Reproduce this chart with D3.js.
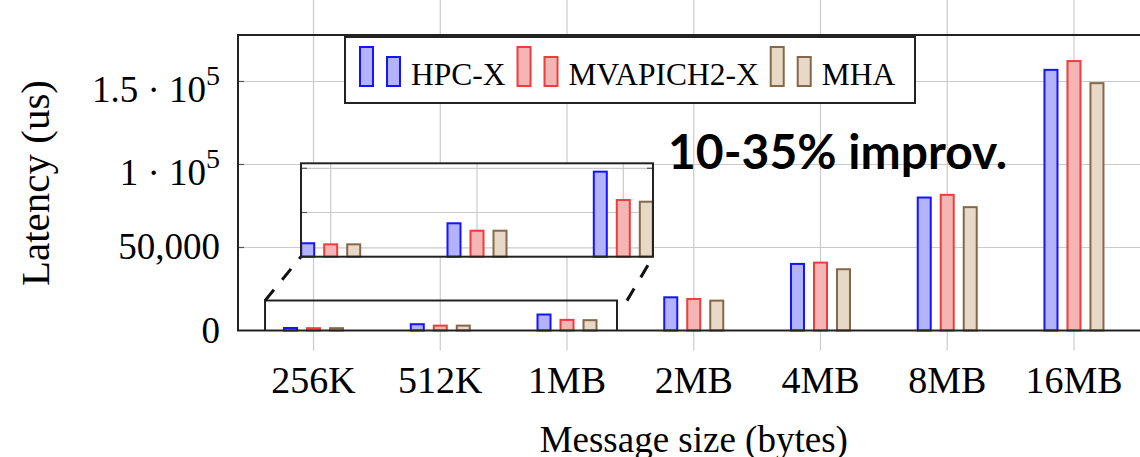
<!DOCTYPE html>
<html>
<head>
<meta charset="utf-8">
<script src="https://cdn.jsdelivr.net/npm/d3@7"></script>
<style>
  body { margin: 0; background: #fff; }
  svg { display: block; }
  .serif { font-family: "Liberation Serif", "DejaVu Serif", serif; fill: #000; }
</style>
</head>
<body>
<svg id="canvas" width="1140" height="457"></svg>
<script>
// Data
var categories = ['256K', '512K', '1MB', '2MB', '4MB', '8MB', '16MB'];
var seriesNames = ['HPC-X', 'MVAPICH2-X', 'MHA'];
var hpcx = [1520, 3780, 9620, 20000, 40100, 80100, 157000];
var mvapich = [1400, 2940, 6410, 19000, 40900, 81700, 162300];
var mha = [1400, 2940, 6220, 18000, 36900, 74300, 149000];
var yTicks = [0, 50000, 100000, 150000];
var yTickLabels = [['0'], ['50,000'], ['1 · 10', '5'], ['1.5 · 10', '5']];
var insetCategories = ['256K', '512K', '1MB'];
var insetTicks = [1000, 5000, 10000];

var series = [hpcx, mvapich, mha];
var fills = ['#b3b3fb', '#f5b5b5', '#e8d8c6'];
var strokes = ['#1414ff', '#f03c3c', '#85684a'];

// Layout
var plot = { left: 238, right: 1149.5, top: 35, bottom: 330.5 };
var inset = { left: 301, right: 653, top: 163.3, bottom: 256.7 };
var barW = 13, barGap = 23;

var svg = d3.select('#canvas');

var x = d3.scalePoint().domain(categories).range([plot.left, plot.right]).padding(0.596);
var y = d3.scaleLinear().domain([0, 178000]).range([plot.bottom, plot.top]);

var xi = d3.scalePoint().domain(insetCategories).range([inset.left, inset.right]).padding(0.203);
var yi = d3.scaleLinear().domain([0, 10566]).range([inset.bottom, inset.top]);

// Grid
var grid = svg.append('g').attr('stroke', '#cacaca').attr('stroke-width', 1.2);
grid.selectAll('line.h').data(yTicks.slice(1)).enter().append('line')
  .attr('x1', plot.left).attr('x2', plot.right)
  .attr('y1', function (d) { return y(d); }).attr('y2', function (d) { return y(d); });
grid.selectAll('line.v').data(categories).enter().append('line')
  .attr('x1', function (d) { return x(d); }).attr('x2', function (d) { return x(d); })
  .attr('y1', 0).attr('y2', plot.bottom + 20);

// Ticks on frame
var ticks = svg.append('g').attr('stroke', '#555').attr('stroke-width', 1.2);
yTicks.slice(1).forEach(function (t) {
  ticks.append('line').attr('x1', plot.left).attr('x2', plot.left + 6).attr('y1', y(t)).attr('y2', y(t));
  ticks.append('line').attr('x1', plot.right - 6).attr('x2', plot.right).attr('y1', y(t)).attr('y2', y(t));
});

// Main bars
function drawBars(g, xs, ys, cats) {
  series.forEach(function (vals, si) {
    g.selectAll('rect.s' + si).data(cats).enter().append('rect')
      .attr('x', function (d) { return xs(d) + (si - 1) * barGap - barW / 2; })
      .attr('y', function (d, i) { return ys(vals[i]); })
      .attr('width', barW)
      .attr('height', function (d, i) { return ys(0) - ys(vals[i]); })
      .attr('fill', fills[si])
      .attr('stroke', strokes[si])
      .attr('stroke-width', 2);
  });
}
drawBars(svg.append('g'), x, y, categories);

// Frame
svg.append('rect')
  .attr('x', plot.left).attr('y', plot.top)
  .attr('width', plot.right - plot.left).attr('height', plot.bottom - plot.top)
  .attr('fill', 'none').attr('stroke', '#222').attr('stroke-width', 2);

// Spy box around the small sizes
var spy = { left: x('256K') - 48.5, right: x('1MB') + 50, top: y(18000), bottom: plot.bottom };
svg.append('path')
  .attr('d', 'M' + spy.left + ',' + spy.bottom + 'V' + spy.top + 'H' + spy.right + 'V' + spy.bottom)
  .attr('fill', 'none').attr('stroke', '#222').attr('stroke-width', 2);

var dash = svg.append('g').attr('stroke', '#111').attr('stroke-width', 3).attr('stroke-dasharray', '14,13');
dash.append('line').attr('x1', spy.left).attr('y1', spy.top).attr('x2', inset.left).attr('y2', inset.bottom);
dash.append('line').attr('x1', spy.right + 10).attr('y1', spy.top).attr('x2', inset.right).attr('y2', inset.bottom);

// Inset (zoomed view)
var ig = svg.append('g');
ig.append('rect')
  .attr('x', inset.left).attr('y', inset.top)
  .attr('width', inset.right - inset.left).attr('height', inset.bottom - inset.top)
  .attr('fill', '#fff');
var igrid = ig.append('g').attr('stroke', '#cacaca').attr('stroke-width', 1.2);
igrid.selectAll('line.h').data(insetTicks).enter().append('line')
  .attr('x1', inset.left).attr('x2', inset.right)
  .attr('y1', function (d) { return yi(d); }).attr('y2', function (d) { return yi(d); });
igrid.selectAll('line.v').data(insetCategories).enter().append('line')
  .attr('x1', function (d) { return xi(d); }).attr('x2', function (d) { return xi(d); })
  .attr('y1', inset.top).attr('y2', inset.bottom);
var iticks = ig.append('g').attr('stroke', '#555').attr('stroke-width', 1.2);
insetTicks.slice(1).forEach(function (t) {
  iticks.append('line').attr('x1', inset.left).attr('x2', inset.left + 6).attr('y1', yi(t)).attr('y2', yi(t));
  iticks.append('line').attr('x1', inset.right - 6).attr('x2', inset.right).attr('y1', yi(t)).attr('y2', yi(t));
});
drawBars(ig.append('g'), xi, yi, insetCategories);
ig.append('rect')
  .attr('x', inset.left).attr('y', inset.top)
  .attr('width', inset.right - inset.left).attr('height', inset.bottom - inset.top)
  .attr('fill', 'none').attr('stroke', '#222').attr('stroke-width', 2);

// Y tick labels
yTicks.forEach(function (t, i) {
  var lab = yTickLabels[i];
  var txt = svg.append('text').attr('class', 'serif')
    .attr('x', 220)
    .attr('y', y(t) + (lab.length > 1 ? 21 : 12))
    .attr('text-anchor', 'end')
    .style('font-size', '37px')
    .text(lab[0]);
  if (lab.length > 1) {
    txt.append('tspan').attr('dy', -17).style('font-size', '28px').text(lab[1]);
  }
});

// X tick labels
svg.append('g').selectAll('text').data(categories).enter().append('text')
  .attr('class', 'serif')
  .attr('x', function (d) { return x(d); })
  .attr('y', 393)
  .attr('text-anchor', 'middle')
  .style('font-size', '38px')
  .text(function (d) { return d; });

// Axis titles
svg.append('text').attr('class', 'serif')
  .attr('x', (plot.left + plot.right) / 2).attr('y', 452)
  .attr('text-anchor', 'middle').style('font-size', '37px')
  .text('Message size (bytes)');
svg.append('text').attr('class', 'serif')
  .attr('transform', 'translate(49,183) rotate(-90)')
  .attr('text-anchor', 'middle').style('font-size', '41px')
  .text('Latency (us)');

// Legend
var legend = svg.append('g');
legend.append('rect')
  .attr('x', 345).attr('y', 37).attr('width', 570).attr('height', 66)
  .attr('fill', '#fff').attr('stroke', '#222').attr('stroke-width', 2);
var lx = 360;
seriesNames.forEach(function (name, si) {
  legend.append('rect').attr('x', lx).attr('y', 47).attr('width', 13).attr('height', 39)
    .attr('fill', fills[si]).attr('stroke', strokes[si]).attr('stroke-width', 2);
  legend.append('rect').attr('x', lx + 27).attr('y', 57).attr('width', 13).attr('height', 29)
    .attr('fill', fills[si]).attr('stroke', strokes[si]).attr('stroke-width', 2);
  var t = legend.append('text').attr('class', 'serif')
    .attr('x', lx + 51).attr('y', 85)
    .style('font-size', '31.5px')
    .text(name);
  lx += 51 + t.node().getComputedTextLength() + 12;
});

// Annotation
svg.append('text')
  .attr('x', 668).attr('y', 169)
  .style('font-family', 'Lato, "Open Sans", sans-serif')
  .style('font-weight', 700)
  .style('font-size', '48px')
  .text('10-35% improv.');
</script>
</body>
</html>
